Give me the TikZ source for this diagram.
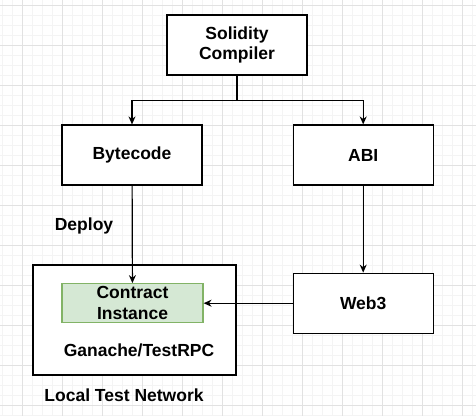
\documentclass[tikz,border=0pt]{standalone}
\usepackage{fontspec}
\setmainfont{Liberation Sans}
\usetikzlibrary{positioning,arrows.meta}

\definecolor{gridminor}{HTML}{F4F4F4}
\definecolor{gridmajor}{HTML}{E2E2E2}
\definecolor{instfill}{HTML}{D5E8D4}
\definecolor{instdraw}{HTML}{82B366}

\begin{document}
\begin{tikzpicture}[
  x=1pt, y=-1pt,
  node distance=50pt and 90pt,
  box/.style={draw, line width=1.2pt, align=center, minimum width=140pt, minimum height=60pt, inner sep=0pt, font=\bfseries\fontsize{17.5}{20.5}\selectfont},
  lbl/.style={font=\bfseries\fontsize{17.5}{20.5}\selectfont, inner sep=0pt},
  arr/.style={-{Stealth[length=8pt,width=7pt]}, line width=1.2pt}
]
  \useasboundingbox (0,0) rectangle (476,416);
  % grid
  \foreach \gx in {2,12,...,472} \draw[gridminor, line width=0.8pt] (\gx,0) -- (\gx,416);
  \foreach \gy in {5,15,...,415} \draw[gridminor, line width=0.8pt] (0,\gy) -- (476,\gy);
  \foreach \gx in {22,62,...,462} \draw[gridmajor, line width=0.8pt] (\gx,0) -- (\gx,416);
  \foreach \gy in {5,45,...,405} \draw[gridmajor, line width=0.8pt] (0,\gy) -- (476,\gy);

  \node[box, fill=white] (compiler) at (237,45) {Solidity\\Compiler};
  \node[box, fill=white] (bytecode) at (132,155) {Bytecode};
  \node[box, fill=white, right=of bytecode] (abi) {ABI};
  \node[box, fill=white, below=87pt of abi] (web3) {Web3};

  \node[draw, line width=2.5pt, fill=white, minimum width=203pt, minimum height=110pt] (net) at (134.5,320) {};
  \node[box, fill=instfill, draw=instdraw, minimum width=141pt, minimum height=39pt, left=89pt of web3] (inst) {Contract\\Instance};
  \node[lbl] (ganache) at (139,350) {Ganache/TestRPC};
  \node[lbl] (localnet) at (124,395) {Local Test Network};
  \node[lbl] (deploy) at (84,226) {Deploy};

  \draw[line width=1.2pt] (compiler.south) -- ++(0,25) coordinate (split);
  \draw[arr] (split) -| (bytecode.north);
  \draw[arr] (split) -| (abi.north);
  \draw[arr] (bytecode) -- (inst);
  \draw[arr] (abi) -- (web3);
  \draw[arr] (web3) -- (inst);
\end{tikzpicture}
\end{document}
